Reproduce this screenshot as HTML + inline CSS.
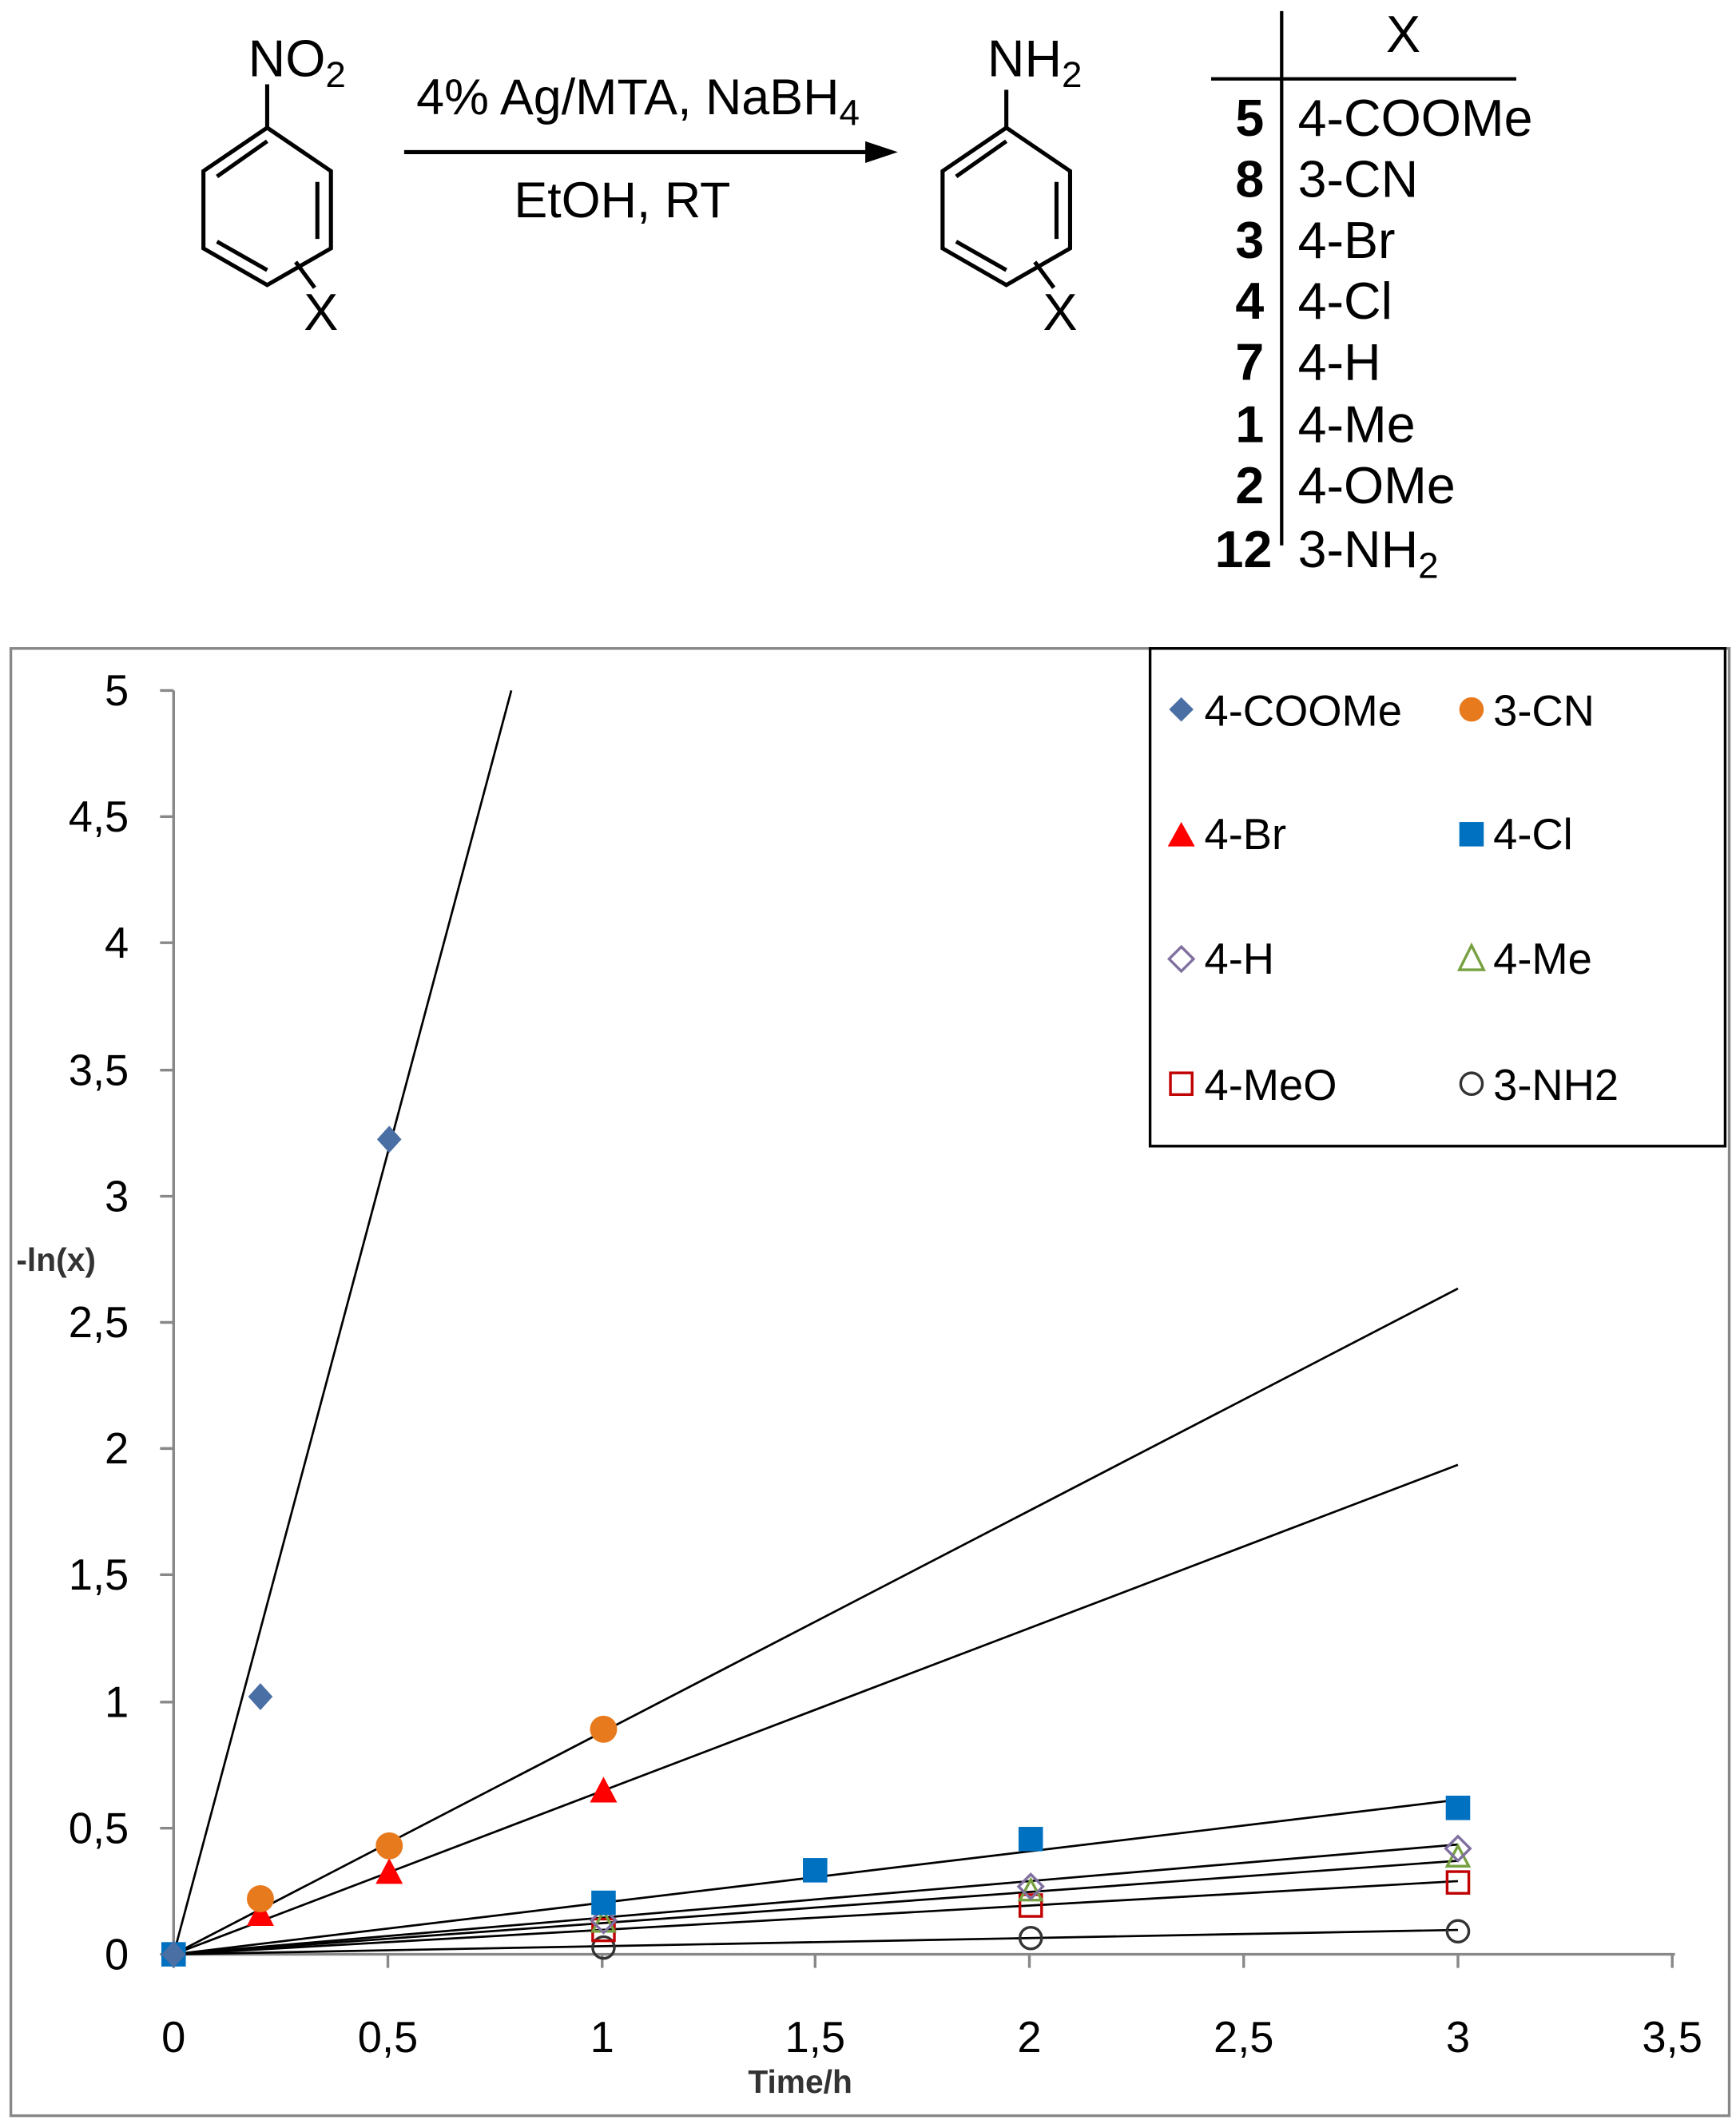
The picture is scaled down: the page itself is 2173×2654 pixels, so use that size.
<!DOCTYPE html>
<html><head><meta charset="utf-8"><style>html,body{margin:0;padding:0;background:#fff}svg{display:block}</style></head>
<body>
<svg xmlns="http://www.w3.org/2000/svg" width="2173" height="2654" viewBox="0 0 1280 1563" font-family="Liberation Sans, sans-serif">
<rect width="1280" height="1563" fill="#fff"/>
<g stroke="#000" stroke-width="3" fill="none">
<polyline points="197,62 197,94"/>
<polygon points="197,94 244,126 244,183 197,210 150,183 150,126"/>
<line x1="160" y1="130" x2="197" y2="104"/>
<line x1="234" y1="134" x2="234" y2="176"/>
<line x1="160" y1="178" x2="197" y2="199"/>
<line x1="218" y1="193" x2="232" y2="212"/>
<polyline points="742,66 742,94"/>
<polygon points="742,94 789,126 789,183 742,210 695,183 695,126"/>
<line x1="705" y1="130" x2="742" y2="104"/>
<line x1="779" y1="134" x2="779" y2="176"/>
<line x1="705" y1="178" x2="742" y2="199"/>
<line x1="763" y1="193" x2="777" y2="212"/>
<line x1="298" y1="112" x2="648" y2="112"/>
</g>
<polygon points="662,112 638,104 638,120" fill="#000"/>
<g font-size="38" fill="#000">
<text x="183" y="56">NO<tspan font-size="27" dy="8">2</tspan></text>
<text x="224" y="243">X</text>
<text x="728" y="56">NH<tspan font-size="27" dy="8">2</tspan></text>
<text x="769" y="243">X</text>
<text x="307" y="84" font-size="37">4% Ag/MTA, NaBH<tspan font-size="27" dy="8">4</tspan></text>
<text x="379" y="160" font-size="37">EtOH, RT</text>
<text x="1022" y="38">X</text>
</g>
<line x1="945" y1="8" x2="945" y2="402" stroke="#000" stroke-width="2.5"/>
<line x1="893" y1="58" x2="1118" y2="58" stroke="#000" stroke-width="2.5"/>
<g font-size="38" fill="#000">
<g font-weight="bold" text-anchor="end">
<text x="932" y="100">5</text><text x="932" y="145">8</text><text x="932" y="190">3</text><text x="932" y="235">4</text>
<text x="932" y="280">7</text><text x="932" y="326">1</text><text x="932" y="371">2</text><text x="938" y="418">12</text>
</g>
<text x="957" y="100">4-COOMe</text><text x="957" y="145">3-CN</text><text x="957" y="190">4-Br</text><text x="957" y="235">4-Cl</text>
<text x="957" y="280">4-H</text><text x="957" y="326">4-Me</text><text x="957" y="371">4-OMe</text>
<text x="957" y="418">3-NH<tspan font-size="27" dy="8">2</tspan></text>
</g>
<rect x="8" y="478" width="1267" height="1082" fill="none" stroke="#888" stroke-width="2"/>
<g stroke="#888" stroke-width="2">
<line x1="128" y1="509" x2="128" y2="1441"/>
<line x1="128" y1="1441" x2="1235" y2="1441"/>
<line x1="118" y1="509" x2="128" y2="509"/><line x1="118" y1="602" x2="128" y2="602"/><line x1="118" y1="695" x2="128" y2="695"/>
<line x1="118" y1="789" x2="128" y2="789"/><line x1="118" y1="882" x2="128" y2="882"/><line x1="118" y1="975" x2="128" y2="975"/>
<line x1="118" y1="1068" x2="128" y2="1068"/><line x1="118" y1="1161" x2="128" y2="1161"/><line x1="118" y1="1255" x2="128" y2="1255"/>
<line x1="118" y1="1348" x2="128" y2="1348"/><line x1="118" y1="1441" x2="128" y2="1441"/>
<line x1="128" y1="1441" x2="128" y2="1451"/><line x1="286" y1="1441" x2="286" y2="1451"/><line x1="444" y1="1441" x2="444" y2="1451"/>
<line x1="601" y1="1441" x2="601" y2="1451"/><line x1="759" y1="1441" x2="759" y2="1451"/><line x1="917" y1="1441" x2="917" y2="1451"/>
<line x1="1075" y1="1441" x2="1075" y2="1451"/><line x1="1233" y1="1441" x2="1233" y2="1451"/>
</g>
<g font-size="32" fill="#000" text-anchor="end">
<text x="95" y="520">5</text><text x="95" y="613">4,5</text><text x="95" y="706">4</text><text x="95" y="800">3,5</text>
<text x="95" y="893">3</text><text x="95" y="986">2,5</text><text x="95" y="1079">2</text><text x="95" y="1172">1,5</text>
<text x="95" y="1266">1</text><text x="95" y="1359">0,5</text><text x="95" y="1452">0</text>
</g>
<g font-size="32" fill="#000" text-anchor="middle">
<text x="128" y="1513">0</text><text x="286" y="1513">0,5</text><text x="444" y="1513">1</text><text x="601" y="1513">1,5</text>
<text x="759" y="1513">2</text><text x="917" y="1513">2,5</text><text x="1075" y="1513">3</text><text x="1233" y="1513">3,5</text>
</g>
<text x="590" y="1543" font-size="24" font-weight="bold" text-anchor="middle" fill="#333">Time/h</text>
<text x="12" y="937" font-size="24" font-weight="bold" fill="#333">-ln(x)</text>
<g stroke="#000" stroke-width="1.6">
<line x1="128" y1="1441" x2="377" y2="509"/>
<line x1="128" y1="1441" x2="1075" y2="950"/>
<line x1="128" y1="1441" x2="1075" y2="1080"/>
<line x1="128" y1="1441" x2="1075" y2="1327"/>
<line x1="128" y1="1441" x2="1075" y2="1360"/>
<line x1="128" y1="1441" x2="1075" y2="1372"/>
<line x1="128" y1="1441" x2="1075" y2="1387"/>
<line x1="128" y1="1441" x2="1075" y2="1423"/>
</g>
<g fill="none" stroke="#333" stroke-width="2">
<circle cx="445" cy="1436" r="8"/><circle cx="760" cy="1429" r="8"/><circle cx="1075" cy="1424" r="8"/>
</g>
<g fill="none" stroke="#c00000" stroke-width="2">
<rect x="437" y="1415" width="16" height="16"/><rect x="752" y="1397" width="16" height="16"/><rect x="1067" y="1380" width="16" height="16"/>
</g>
<g fill="none" stroke="#77a040" stroke-width="2">
<polygon points="445,1409 453,1424 437,1424"/><polygon points="760,1386 768,1401 752,1401"/><polygon points="1075,1361 1083,1376 1067,1376"/>
</g>
<g fill="none" stroke="#8070a0" stroke-width="2">
<polygon points="445,1407 454,1416 445,1425 436,1416"/><polygon points="760,1382 769,1391 760,1400 751,1391"/><polygon points="1075,1354 1084,1363 1075,1372 1066,1363"/>
</g>
<g fill="#0070c0">
<rect x="436" y="1394" width="18" height="18"/><rect x="592" y="1370" width="18" height="18"/><rect x="751" y="1347" width="18" height="18"/><rect x="1066" y="1324" width="18" height="18"/><rect x="119" y="1432" width="18" height="18"/>
</g>
<g fill="#ff0000">
<polygon points="192,1401 202,1420 182,1420"/><polygon points="287,1370 297,1389 277,1389"/><polygon points="445,1310 455,1329 435,1329"/>
</g>
<g fill="#e87a1e">
<circle cx="192" cy="1400" r="10"/><circle cx="287" cy="1361" r="10"/><circle cx="445" cy="1275" r="10"/>
</g>
<g fill="#4a6fa5">
<polygon points="192,1241 201,1251 192,1261 183,1251"/><polygon points="287,830 296,840 287,850 278,840"/><polygon points="128,1431 137,1441 128,1451 119,1441"/>
</g>
<rect x="848" y="478" width="424" height="367" fill="#fff" stroke="#000" stroke-width="2"/>
<g font-size="32" fill="#000">
<polygon points="871,514 880,523 871,532 862,523" fill="#4a6fa5"/><text x="888" y="535">4-COOMe</text>
<circle cx="1085" cy="523" r="9" fill="#e87a1e"/><text x="1101" y="535">3-CN</text>
<polygon points="871,606 881,624 861,624" fill="#ff0000"/><text x="888" y="626">4-Br</text>
<rect x="1076" y="606" width="18" height="18" fill="#0070c0"/><text x="1101" y="626">4-Cl</text>
<polygon points="871,698 880,707 871,716 862,707" fill="none" stroke="#8070a0" stroke-width="2"/><text x="888" y="718">4-H</text>
<polygon points="1085,697 1094,715 1076,715" fill="none" stroke="#77a040" stroke-width="2"/><text x="1101" y="718">4-Me</text>
<rect x="863" y="791" width="16" height="16" fill="none" stroke="#c00000" stroke-width="2"/><text x="888" y="811">4-MeO</text>
<circle cx="1085" cy="799" r="8" fill="none" stroke="#333" stroke-width="2"/><text x="1101" y="811">3-NH2</text>
</g>
</svg>
</body></html>
